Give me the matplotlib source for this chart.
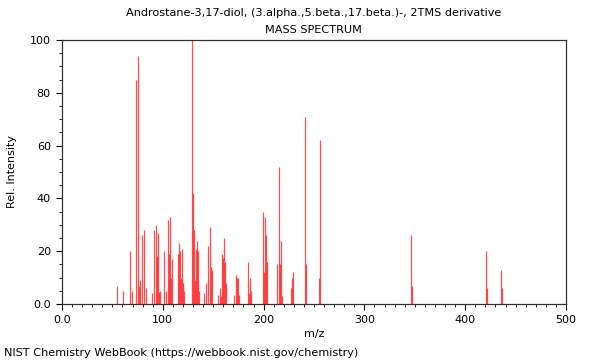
import numpy as np
import matplotlib.pyplot as plt
from matplotlib.ticker import MultipleLocator, FuncFormatter

# peaks (m/z, relative intensity)
mz = [55, 61, 67, 69, 73, 75, 76, 77, 79, 81, 83, 89, 91, 93, 94, 95, 96, 97,
      101, 103, 105, 106, 107, 108, 109, 115, 116, 117, 118, 119, 120, 121,
      129, 130, 131, 132, 133, 134, 135, 136, 141, 143, 145, 147, 148, 149,
      155, 157, 158, 159, 160, 161, 162, 163, 171, 173, 174, 175, 176,
      185, 186, 187, 188, 199, 200, 201, 202, 203, 213, 215, 216, 217, 218,
      227, 228, 229, 241, 242, 255, 256, 346, 347, 421, 422, 436, 437]
intensity = [7, 5, 20, 5, 85, 94, 7, 9, 26, 28, 6, 4, 28, 30, 18, 27, 4.5, 5,
             20, 5, 32, 19, 33, 10, 17, 19, 23, 20, 10, 21, 8, 5,
             100, 42, 28, 9, 21, 24, 20, 5, 4, 8, 22, 29, 14, 13,
             3.5, 6, 3, 19, 17.5, 25, 16, 8, 3.5, 11, 10, 10, 3.5,
             16, 4, 10, 5, 35, 12, 33, 26, 16, 15, 52, 15, 24, 3,
             6, 10, 12, 71, 15, 10, 62, 26, 7, 20, 6, 13, 6]

title = "Androstane-3,17-diol, (3.alpha.,5.beta.,17.beta.)-, 2TMS derivative"

fig = plt.figure(figsize=(6, 3.6), dpi=100)
ax = fig.add_axes([0.1033, 0.1556, 0.84, 0.7333])

ax.vlines(mz, 0, intensity, color='#ff0000', alpha=0.7, linewidth=0.9)

ax.set_xlim(0, 500)
ax.set_ylim(0, 100)
ax.xaxis.set_major_locator(MultipleLocator(100))
ax.xaxis.set_minor_locator(MultipleLocator(10))
ax.yaxis.set_major_locator(MultipleLocator(20))
ax.yaxis.set_minor_locator(MultipleLocator(5))
fmt = FuncFormatter(lambda v, p: "0.0" if v == 0 else "%d" % v)
ax.xaxis.set_major_formatter(fmt)
ax.yaxis.set_major_formatter(fmt)
ax.tick_params(which='major', direction='out', length=4.5, width=0.8, labelsize=8)
ax.tick_params(which='minor', direction='out', length=2.2, width=0.6)
for s in ax.spines.values():
    s.set_color('#333333')
    s.set_linewidth(0.9)

ax.set_xlabel('m/z', fontsize=8, labelpad=3)
ax.set_ylabel('Rel. Intensity', fontsize=8, labelpad=9)
fig.text(0.523, 0.963, title, ha='center', va='center', fontsize=8.1)
fig.text(0.523, 0.916, 'MASS SPECTRUM', ha='center', va='center', fontsize=8.1)
fig.text(0.006, 0.019, 'NIST Chemistry WebBook (https://webbook.nist.gov/chemistry)',
         ha='left', va='center', fontsize=8.1)

fig.savefig('out.png', dpi=100)
